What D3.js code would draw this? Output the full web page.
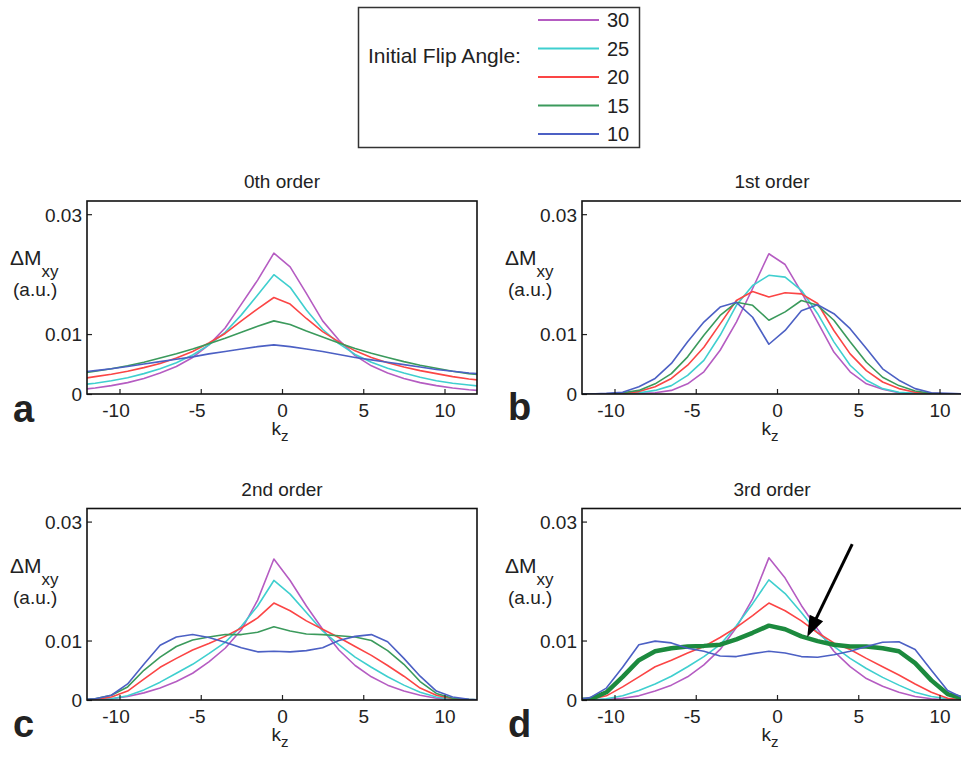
<!DOCTYPE html>
<html><head><meta charset="utf-8">
<script src="https://cdn.jsdelivr.net/npm/d3@7"></script>
<style>
body{margin:0;background:#fff}
svg{display:block}
text{font-family:"Liberation Sans",Arial,Helvetica,sans-serif;fill:#222}
</style>
</head><body>
<svg id="chart" width="961" height="757"></svg>
<script>
// ---------- data ----------
const kz = [-12.5,-11.5,-10.5,-9.5,-8.5,-7.5,-6.5,-5.5,-4.5,-3.5,-2.5,-1.5,-0.5,0.5,1.5,2.5,3.5,4.5,5.5,6.5,7.5,8.5,9.5,10.5,11.5,12.5];
const flipAngles = [30, 25, 20, 15, 10];
const angleColors = ["#b55cc2", "#3fcfcf", "#fb4545", "#3b9a5c", "#4c60c4"];
const panelTitles = ["0th order", "1st order", "2nd order", "3rd order"];
const panelLetters = ["a", "b", "c", "d"];
const yTickValues = [0, 0.01, 0.03];
const yTickLabels = ["0", "0.01", "0.03"];
const xTickValues = [-10, -5, 0, 5, 10];
const xTickLabels = ["-10", "-5", "0", "5", "10"];

// 0th order
const order0_fa30 = [.0007,.0010,.0014,.0019,.0026,.0035,.0046,.0061,.0082,.0110,.0150,.0190,.0235,.0212,.0168,.0122,.0090,.0064,.0047,.0035,.0026,.0019,.0014,.0010,.0007,.0005];
const order0_fa25 = [.0015,.0018,.0022,.0027,.0034,.0042,.0052,.0065,.0082,.0103,.0132,.0165,.0199,.0178,.0140,.0108,.0084,.0066,.0053,.0043,.0035,.0028,.0022,.0018,.0015,.0012];
const order0_fa20 = [.0025,.0029,.0033,.0038,.0044,.0051,.0060,.0071,.0085,.0101,.0122,.0142,.0161,.0150,.0126,.0104,.0087,.0072,.0061,.0052,.0045,.0039,.0034,.0029,.0025,.0022];
const order0_fa15 = [.0034,.0038,.0042,.0047,.0053,.0060,.0067,.0075,.0084,.0093,.0103,.0113,.0122,.0116,.0105,.0095,.0085,.0076,.0068,.0061,.0054,.0048,.0043,.0038,.0034,.0031];
const order0_fa10 = [.0036,.0039,.0042,.0046,.0050,.0054,.0058,.0062,.0067,.0071,.0075,.0079,.0082,.0079,.0075,.0071,.0066,.0061,.0057,.0053,.0049,.0045,.0041,.0038,.0035,.0033];
// 1st order
const order1_fa30 = [0,0,0,0,.0001,.0002,.0006,.0017,.0037,.0073,.0120,.0176,.0234,.0216,.0170,.0120,.0070,.0037,.0017,.0008,.0002,.0001,0,0,0,0];
const order1_fa25 = [0,0,0,0,.0002,.0006,.0014,.0031,.0056,.0098,.0148,.0181,.0198,.0195,.0173,.0134,.0087,.0048,.0023,.0009,.0003,.0001,0,0,0,0];
const order1_fa20 = [0,0,0,.0001,.0004,.0012,.0026,.0048,.0078,.0117,.0156,.0171,.0162,.0169,.0167,.0151,.0106,.0067,.0039,.0020,.0009,.0003,.0001,0,0,0];
const order1_fa15 = [0,0,0,.0002,.0006,.0017,.0034,.0062,.0098,.0131,.0153,.0148,.0123,.0137,.0156,.0148,.0123,.0087,.0053,.0028,.0014,.0005,.0001,0,0,0];
const order1_fa10 = [0,0,.0001,.0003,.0012,.0026,.0051,.0087,.0120,.0145,.0153,.0128,.0083,.0106,.0139,.0149,.0134,.0109,.0076,.0042,.0023,.0009,.0002,.0001,0,0];
// 2nd order
const order2_fa30 = [0,.0001,.0002,.0006,.0012,.0020,.0031,.0045,.0064,.0087,.0118,.0168,.0237,.0201,.0158,.0119,.0084,.0058,.0039,.0025,.0015,.0008,.0003,.0001,0,0];
const order2_fa25 = [0,0,.0002,.0007,.0017,.0030,.0045,.0060,.0078,.0097,.0124,.0158,.0201,.0178,.0147,.0116,.0093,.0072,.0055,.0039,.0025,.0013,.0005,.0001,0,0];
const order2_fa20 = [0,.0001,.0005,.0015,.0035,.0055,.0070,.0084,.0095,.0107,.0121,.0138,.0163,.0150,.0133,.0119,.0105,.0090,.0075,.0058,.0040,.0020,.0008,.0002,0,0];
const order2_fa15 = [0,.0002,.0008,.0022,.0050,.0072,.0090,.0101,.0106,.0110,.0110,.0114,.0123,.0116,.0111,.0110,.0108,.0106,.0100,.0083,.0060,.0031,.0011,.0003,.0001,0];
const order2_fa10 = [0,.0002,.0008,.0027,.0060,.0092,.0106,.0110,.0105,.0097,.0088,.0081,.0082,.0081,.0083,.0088,.0100,.0107,.0110,.0098,.0070,.0040,.0015,.0005,.0001,0];
// 3rd order
const order3_fa30 = [0,0,.0001,.0003,.0007,.0015,.0025,.0039,.0059,.0085,.0122,.0170,.0239,.0205,.0159,.0119,.0082,.0056,.0036,.0023,.0013,.0006,.0002,0,0,0];
const order3_fa25 = [0,0,.0002,.0007,.0016,.0027,.0040,.0056,.0073,.0093,.0125,.0162,.0202,.0179,.0147,.0113,.0090,.0070,.0053,.0038,.0025,.0013,.0006,.0002,0,0];
const order3_fa20 = [0,.0001,.0007,.0022,.0039,.0056,.0067,.0079,.0090,.0105,.0122,.0142,.0163,.0150,.0133,.0113,.0096,.0085,.0070,.0056,.0042,.0027,.0013,.0003,0,0];
const order3_fa15 = [0,.0001,.0013,.0039,.0067,.0082,.0087,.0090,.0091,.0093,.0102,.0113,.0125,.0119,.0107,.0099,.0093,.0090,.0090,.0087,.0082,.0062,.0033,.0010,.0002,0];
const order3_fa10 = [0,.0004,.0020,.0055,.0093,.0099,.0096,.0087,.0082,.0074,.0073,.0078,.0082,.0079,.0073,.0072,.0076,.0082,.0090,.0097,.0098,.0085,.0050,.0016,.0003,0];

// arrow annotation in data coordinates of panel d (kz, value)
const arrowTail = [4.63, 0.0262];
const arrowTip = [1.86, 0.0106];

// ---------- layout ----------
const panels = [
  {title: panelTitles[0], letter: panelLetters[0], series: [order0_fa30, order0_fa25, order0_fa20, order0_fa15, order0_fa10], left: 87, right: 477, top: 201, bottom: 394, letterY: 422},
  {title: panelTitles[1], letter: panelLetters[1], series: [order1_fa30, order1_fa25, order1_fa20, order1_fa15, order1_fa10], left: 582, right: 972, top: 201, bottom: 394, letterY: 420},
  {title: panelTitles[2], letter: panelLetters[2], series: [order2_fa30, order2_fa25, order2_fa20, order2_fa15, order2_fa10], left: 87, right: 477, top: 508.5, bottom: 700, letterY: 737},
  {title: panelTitles[3], letter: panelLetters[3], series: [order3_fa30, order3_fa25, order3_fa20, order3_fa15, order3_fa10], left: 582, right: 972, top: 508.5, bottom: 700, letterY: 737, thick: 3}
];

const svg = d3.select("#chart");

panels.forEach((p, pi) => {
  const x = d3.scaleLinear().domain([-12, 12]).range([p.left, p.right]);
  const y = d3.scaleLinear().domain([0, 0.0322]).range([p.bottom, p.top]);
  const g = svg.append("g");
  const clipId = "clip" + pi;
  svg.append("clipPath").attr("id", clipId).append("rect")
    .attr("x", p.left).attr("y", p.top).attr("width", p.right - p.left).attr("height", p.bottom - p.top);

  const line = d3.line().x((d, i) => x(kz[i])).y(d => y(d));
  const lines = g.append("g").attr("clip-path", `url(#${clipId})`);
  p.series.forEach((s, si) => {
    lines.append("path").datum(s)
      .attr("d", line)
      .attr("fill", "none")
      .attr("stroke", (p.thick === si) ? "#1c8a3e" : angleColors[si])
      .attr("stroke-width", (p.thick === si) ? 4.5 : 1.6)
      .attr("stroke-linejoin", "round");
  });

  // axes (inward ticks)
  const yAxis = d3.axisLeft(y).tickValues(yTickValues).tickFormat((d, i) => yTickLabels[i]).tickSize(-5).tickPadding(5);
  const gy = g.append("g").attr("transform", `translate(${p.left},0)`).call(yAxis);
  const xAxis = d3.axisBottom(x).tickValues(xTickValues).tickFormat((d, i) => xTickLabels[i]).tickSize(-5).tickPadding(10);
  const gx = g.append("g").attr("transform", `translate(0,${p.bottom})`).call(xAxis);
  [gy, gx].forEach(a => {
    a.select(".domain").remove();
    a.selectAll(".tick line").attr("stroke", "#222").attr("stroke-width", 1.2);
    a.selectAll(".tick text").attr("font-size", 19).attr("fill", "#222")
      .attr("font-family", '"Liberation Sans",Arial,sans-serif');
  });
  gy.selectAll(".tick text").attr("dy", "0.36em");
  gx.selectAll(".tick text").attr("dy", "0.71em").attr("dx", (d) => d < 0 ? -4 : 0);

  // frame
  g.append("rect").attr("x", p.left).attr("y", p.top)
    .attr("width", p.right - p.left).attr("height", p.bottom - p.top)
    .attr("fill", "none").attr("stroke", "#111").attr("stroke-width", 1.6);

  // title
  const visRight = Math.min(p.right, 962);
  g.append("text").attr("x", (p.left + visRight) / 2).attr("y", p.top - 13)
    .attr("text-anchor", "middle").attr("font-size", 19).text(p.title);

  // y label
  const yl = g.append("text").attr("x", p.left - 77).attr("y", p.top + 64).attr("font-size", 21);
  yl.append("tspan").text("ΔM");
  yl.append("tspan").attr("dy", 12).attr("font-size", 17).text("xy");
  g.append("text").attr("x", p.left - 74).attr("y", p.top + 95).attr("font-size", 19).text("(a.u.)");

  // x label
  const xl = g.append("text").attr("x", (p.left + visRight) / 2 - 2).attr("y", p.bottom + 41)
    .attr("text-anchor", "middle").attr("font-size", 19);
  xl.append("tspan").text("k");
  xl.append("tspan").attr("dy", 6).attr("font-size", 15).text("z");

  // panel letter
  g.append("text").attr("x", p.left - 74).attr("y", p.letterY)
    .attr("font-size", 38).attr("font-weight", "bold").attr("fill", "#111").text(p.letter);

  if (pi === 3) {
    const tx = x(arrowTail[0]), ty = y(arrowTail[1]);
    const hx = x(arrowTip[0]), hy = y(arrowTip[1]);
    const dx = hx - tx, dy = hy - ty, len = Math.hypot(dx, dy);
    const ux = dx / len, uy = dy / len, nx = -uy, ny = ux;
    const hl = 21, hw = 7.5;
    const bx = hx - ux * hl, by = hy - uy * hl;
    g.append("line").attr("x1", tx).attr("y1", ty).attr("x2", bx + ux * 2).attr("y2", by + uy * 2)
      .attr("stroke", "#000").attr("stroke-width", 3);
    g.append("path").attr("d", `M${hx},${hy}L${bx + nx * hw},${by + ny * hw}L${bx - nx * hw},${by - ny * hw}Z`)
      .attr("fill", "#000");
  }
});

// ---------- legend ----------
const lg = svg.append("g");
lg.append("rect").attr("x", 358.5).attr("y", 7.5).attr("width", 281).attr("height", 140)
  .attr("fill", "#fff").attr("stroke", "#333").attr("stroke-width", 1.5);
lg.append("text").attr("x", 368).attr("y", 63).attr("font-size", 21).text("Initial Flip Angle:");
const ly = d3.scalePoint().domain(flipAngles).range([20, 134]);
flipAngles.forEach((a, i) => {
  lg.append("line").attr("x1", 538).attr("x2", 599).attr("y1", ly(a)).attr("y2", ly(a))
    .attr("stroke", angleColors[i]).attr("stroke-width", 2);
  lg.append("text").attr("x", 607).attr("y", ly(a) + 7).attr("font-size", 20).text(a);
});
</script>
</body></html>
